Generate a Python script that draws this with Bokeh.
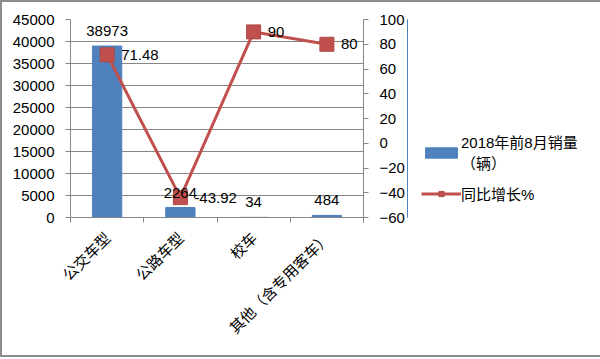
from math import pi
from bokeh.plotting import figure
from bokeh.layouts import row
from bokeh.models import (Range1d, LinearAxis, FixedTicker, ColumnDataSource,
                          LabelSet, Legend, LegendItem)
from bokeh.core.properties import value
from bokeh.embed import file_html
from bokeh.resources import INLINE

# ---- data ----
categories = ["公交车型", "公路车型", "校车", "其他（含专用客车）"]
sales = [38973, 2264, 34, 484]
growth = [71.48, -43.92, 90, 80]
sales_labels = ["38973", "2264", "34", "484"]
growth_labels = ["71.48", "-43.92", "90", "80"]
left_ticks = [0, 5000, 10000, 15000, 20000, 25000, 30000, 35000, 40000, 45000]
right_ticks = [-60, -40, -20, 0, 20, 40, 60, 80, 100]
bar_name = "2018年前8月销量\n（辆）"
line_name = "同比增长%"

BLUE = "#4F81BD"
RED = "#C0504D"
GRID = "#868686"
NUM_FONT = "Liberation Sans"
MIX_FONT = "Liberation Sans, Noto Sans CJK SC"
CJK_FONT = "Noto Sans CJK SC"

xs = [i + 0.5 for i in range(len(categories))]
src = ColumnDataSource(dict(x=xs, sales=sales, growth=growth,
                            slab=sales_labels, glab=growth_labels))

# ---------------- main chart ----------------
p = figure(frame_width=293, frame_height=198,
           x_range=Range1d(0, len(categories)), y_range=Range1d(0, 45000),
           output_backend="svg", toolbar_location=None,
           min_border_left=68, min_border_top=17,
           min_border_right=40, min_border_bottom=138)
p.outline_line_color = None
p.background_fill_color = "white"
p.border_fill_color = "white"

p.extra_y_ranges = {"pct": Range1d(-60, 100)}

ya = p.yaxis[0]
ya.ticker = FixedTicker(ticks=left_ticks)
ya.axis_line_color = GRID
ya.major_tick_line_color = GRID
ya.major_tick_in = 0
ya.major_tick_out = 5
ya.minor_tick_line_color = None
ya.major_label_text_font = NUM_FONT
ya.major_label_text_font_size = "15px"
ya.major_label_text_color = "black"
ya.major_label_standoff = 11

ra = LinearAxis(y_range_name="pct", ticker=FixedTicker(ticks=right_ticks))
ra.axis_line_color = GRID
ra.major_tick_line_color = GRID
ra.major_tick_in = 0
ra.major_tick_out = 5
ra.minor_tick_line_color = None
ra.major_label_text_font = NUM_FONT
ra.major_label_text_font_size = "15px"
ra.major_label_text_color = "black"
ra.major_label_standoff = 11
p.add_layout(ra, "right")

xa = p.xaxis[0]
xa.ticker = FixedTicker(ticks=xs, minor_ticks=list(range(len(categories) + 1)))
xa.major_label_overrides = {x: c for x, c in zip(xs, categories)}
xa.major_label_orientation = pi / 4
xa.major_label_text_font = CJK_FONT
xa.major_label_text_font_size = "15px"
xa.major_label_text_color = "black"
xa.major_label_standoff = 11
xa.axis_line_color = GRID
xa.major_tick_line_color = None
xa.minor_tick_line_color = GRID
xa.minor_tick_in = 0
xa.minor_tick_out = 5

p.xgrid.visible = False
p.ygrid.ticker = FixedTicker(ticks=left_ticks)
p.ygrid.grid_line_color = GRID

p.vbar(x="x", top="sales", width=0.4, source=src, fill_color=BLUE, line_color=BLUE)
p.line(x="x", y="growth", source=src, y_range_name="pct", line_color=RED, line_width=3)
p.scatter(x="x", y="growth", source=src, y_range_name="pct",
          marker="square", size=14, fill_color=RED, line_color="#B04744")

p.add_layout(LabelSet(x="x", y="sales", text="slab", source=src,
                      text_align="center", text_baseline="bottom", y_offset=10,
                      text_font=value(NUM_FONT), text_font_size=value("15px"),
                      text_color="black"))
p.add_layout(LabelSet(x="x", y="growth", text="glab", source=src, y_range_name="pct",
                      text_align="left", text_baseline="middle", x_offset=14,
                      text_font=value(NUM_FONT), text_font_size=value("15px"),
                      text_color="black"))

# ---------------- legend panel ----------------
q = figure(width=194, height=353, x_range=Range1d(10, 11), y_range=Range1d(10, 11),
           output_backend="svg", toolbar_location=None,
           x_axis_location=None, y_axis_location=None, min_border=0)
q.grid.visible = False
q.outline_line_color = None
q.background_fill_color = "white"
q.border_fill_color = "white"
q.extra_y_ranges = {"pct": Range1d(1000, 1001)}
lb = q.vbar(x="x", top="sales", width=0.4, source=src, fill_color=BLUE, line_color=BLUE)
ll = q.line(x="x", y="growth", source=src, y_range_name="pct", line_color=RED, line_width=3)
ls = q.scatter(x="x", y="growth", source=src, y_range_name="pct",
               marker="square", size=14, fill_color=RED, line_color="#B04744")

legend = Legend(items=[LegendItem(label=bar_name, renderers=[lb]),
                       LegendItem(label=line_name, renderers=[ll, ls])],
                location=(14, 13), padding=0, margin=0, spacing=10,
                glyph_width=40, glyph_height=13, label_height=20,
                label_standoff=0, border_line_color=None,
                background_fill_alpha=0,
                label_text_font=MIX_FONT, label_text_font_size="15px",
                label_text_color="black")
q.add_layout(legend, "center")

layout = row(p, q, spacing=0, styles={"border": "2px solid #8c8c8c"})

open("out.html", "w").write(file_html(layout, INLINE))
